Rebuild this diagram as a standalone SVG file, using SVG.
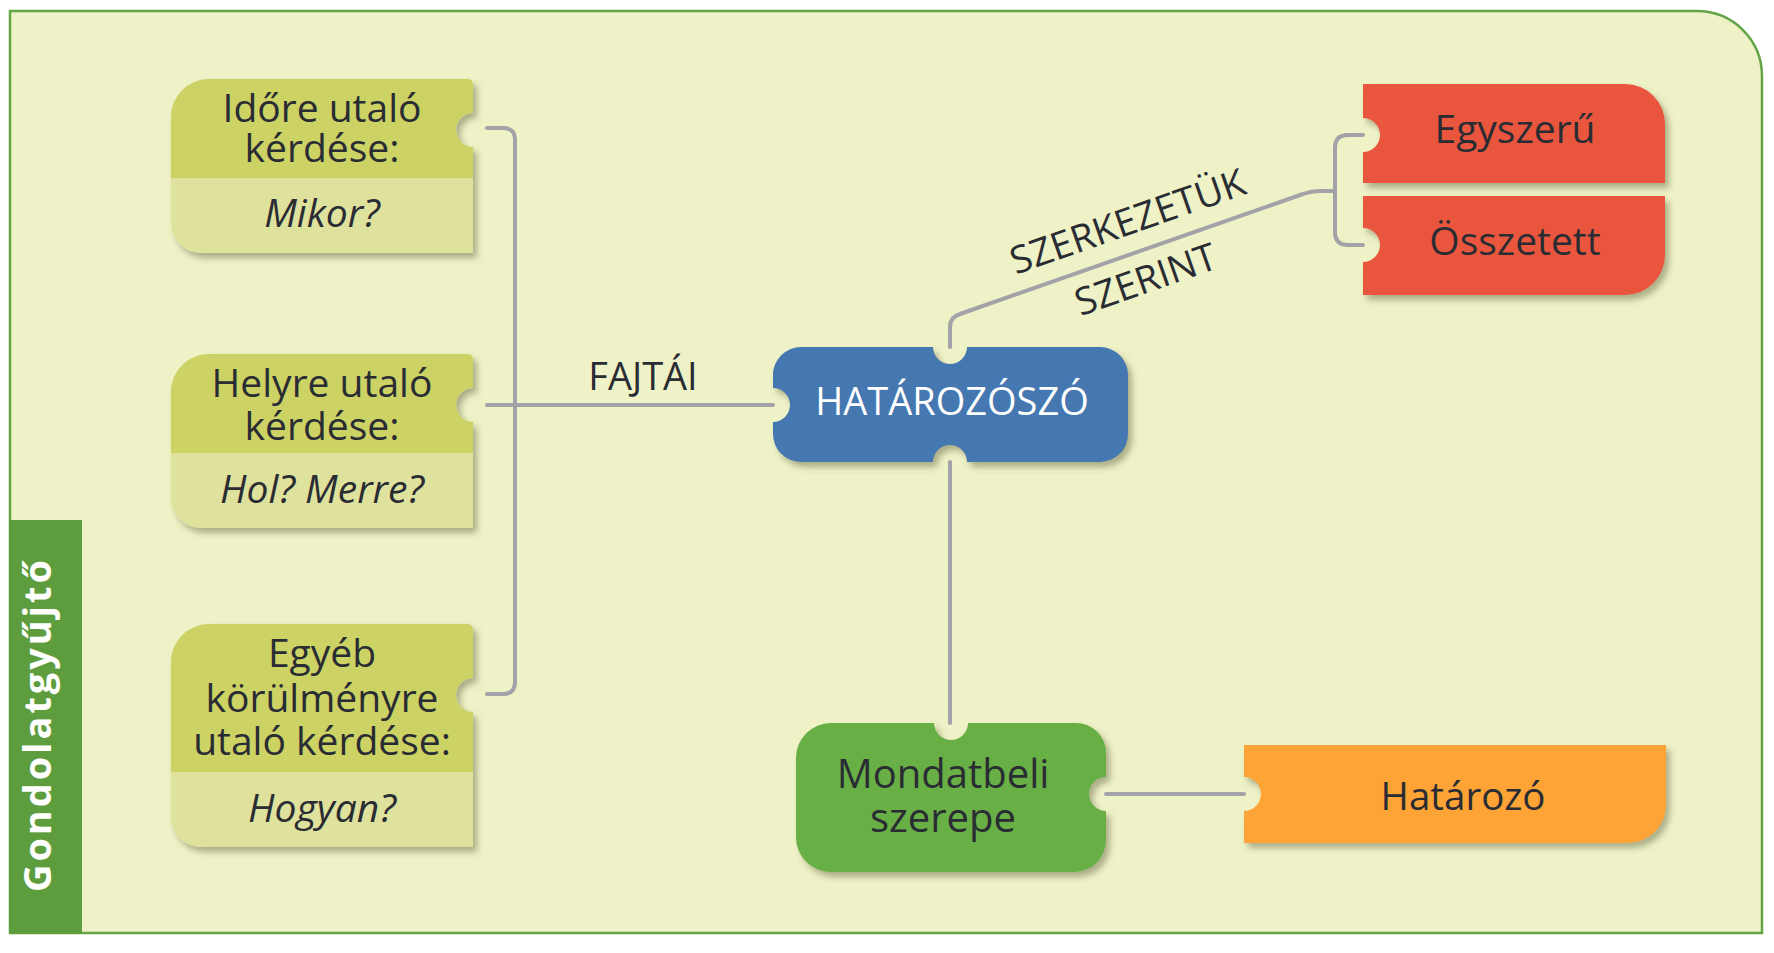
<svg xmlns="http://www.w3.org/2000/svg" width="1774" height="953" viewBox="0 0 1774 953">
<style>
.t{font-family:"Open Sans","Liberation Sans",sans-serif;fill:#2a2c33;text-anchor:middle}
.n{font-size:39px}
.i{font-size:39px;font-style:italic}
.lbl{font-family:"Open Sans","Liberation Sans",sans-serif;fill:#2a2c33;font-size:38px;text-anchor:middle}
.ln{fill:none;stroke:#a2a2a8;stroke-width:4;stroke-linecap:round;stroke-linejoin:round}
.top{fill:#ccd264}
.bot{fill:#dfe29c}
</style>
<defs>
<filter id="sh" x="-10%" y="-10%" width="130%" height="140%">
<feDropShadow dx="4" dy="5" stdDeviation="3" flood-color="#5a5a3a" flood-opacity="0.45"/>
</filter>
</defs>
<rect width="1774" height="953" fill="#ffffff"/>
<g id="frame">
<path d="M10,11 H1697 A65,65 0 0 1 1762,76 V933 H10 Z" fill="#eef2c6" stroke="#63a447" stroke-width="2.5"/>
<rect x="9" y="520" width="73" height="414" fill="#5e9d3d"/>
<text transform="translate(51,726) rotate(-90)" font-family="'Open Sans','Liberation Sans',sans-serif" font-weight="bold" font-size="38" fill="#ffffff" text-anchor="middle" textLength="332" lengthAdjust="spacing">Gondolatgyűjtő</text>
</g>
<g id="connectors">
<path class="ln" d="M487,128 H503 Q515,128 515,140 V682 Q515,694 503,694 H487"/>
<path class="ln" d="M487,405 H773"/>
<path class="ln" d="M950,347 V327 Q950,317 960,314 L1303,194 Q1311,191 1320,191 H1335"/>
<path class="ln" d="M1363,135 H1348 Q1335,135 1335,148 V232 Q1335,245 1348,245 H1363"/>
<path class="ln" d="M950,462 V723"/>
<path class="ln" d="M1106,794 H1244"/>
<text class="lbl" x="643" y="390" font-size="40">FAJTÁI</text>
<text class="lbl" transform="translate(1132,234) rotate(-19.3)">SZERKEZETÜK</text>
<text class="lbl" transform="translate(1150,292) rotate(-19.3)">SZERINT</text>
</g>
<g id="node-idore" transform="translate(171,79)">
<path class="bot" filter="url(#sh)" d="M0,38 A38,38 0 0 1 38,0 H296 Q302,0 302,6 V34 A17,17 0 0 0 302,68 V174 H30 A30,30 0 0 1 0,144 Z"/>
<path class="top" d="M0,99 V38 A38,38 0 0 1 38,0 H296 Q302,0 302,6 V34 A17,17 0 0 0 302,68 V99 Z"/>
<text class="t n" x="151" y="43">Időre utaló</text>
<text class="t n" x="151" y="83">kérdése:</text>
<text class="t i" x="151" y="148">Mikor?</text>
</g>
<g id="node-helyre" transform="translate(171,354)">
<path class="bot" filter="url(#sh)" d="M0,38 A38,38 0 0 1 38,0 H296 Q302,0 302,6 V34 A17,17 0 0 0 302,68 V174 H30 A30,30 0 0 1 0,144 Z"/>
<path class="top" d="M0,99 V38 A38,38 0 0 1 38,0 H296 Q302,0 302,6 V34 A17,17 0 0 0 302,68 V99 Z"/>
<text class="t n" x="151" y="43">Helyre utaló</text>
<text class="t n" x="151" y="86">kérdése:</text>
<text class="t i" x="151" y="149">Hol? Merre?</text>
</g>
<g id="node-egyeb" transform="translate(171,624)">
<path class="bot" filter="url(#sh)" d="M0,38 A38,38 0 0 1 38,0 H296 Q302,0 302,6 V54 A17,17 0 0 0 302,88 V223 H30 A30,30 0 0 1 0,193 Z"/>
<path class="top" d="M0,148 V38 A38,38 0 0 1 38,0 H296 Q302,0 302,6 V54 A17,17 0 0 0 302,88 V148 Z"/>
<text class="t n" x="151" y="43">Egyéb</text>
<text class="t n" x="151" y="88">körülményre</text>
<text class="t n" x="151" y="131">utaló kérdése:</text>
<text class="t i" x="151" y="198">Hogyan?</text>
</g>
<g id="node-hatarozoszo">
<path filter="url(#sh)" fill="#4477b0" d="M801,347 H933 A17,17 0 0 0 967,347 H1100 A28,28 0 0 1 1128,375 V434 A28,28 0 0 1 1100,462 H967 A17,17 0 0 0 933,462 H801 A28,28 0 0 1 773,434 V422 A17,17 0 0 0 773,388 V375 A28,28 0 0 1 801,347 Z"/>
<text class="t" x="952" y="415" font-size="38" style="fill:#ffffff">HATÁROZÓSZÓ</text>
</g>
<g id="node-egyszeru">
<path filter="url(#sh)" fill="#ea563e" d="M1363,84 H1625 A40,40 0 0 1 1665,124 V183 H1363 V152 A17,17 0 0 0 1363,118 Z"/>
<text class="t" x="1515" y="143" font-size="39">Egyszerű</text>
</g>
<g id="node-osszetett">
<path filter="url(#sh)" fill="#ea563e" d="M1363,196 H1665 V255 A40,40 0 0 1 1625,295 H1363 V262 A17,17 0 0 0 1363,228 Z"/>
<text class="t" x="1515" y="255" font-size="39">Összetett</text>
</g>
<g id="node-mondatbeli">
<path filter="url(#sh)" fill="#67b045" d="M831,723 H934 A17,17 0 0 0 968,723 H1076 A30,30 0 0 1 1106,753 V777 A17,17 0 0 0 1106,811 V840 A32,32 0 0 1 1074,872 H831 A35,35 0 0 1 796,837 V758 A35,35 0 0 1 831,723 Z"/>
<text class="t" x="943" y="788" font-size="40">Mondatbeli</text>
<text class="t" x="943" y="832" font-size="40">szerepe</text>
</g>
<g id="node-hatarozo">
<path filter="url(#sh)" fill="#fea335" d="M1244,745 H1666 V805 A38,38 0 0 1 1628,843 H1244 V811 A17,17 0 0 0 1244,777 Z"/>
<text class="t" x="1463" y="810" font-size="38.5">Határozó</text>
</g>
</svg>
